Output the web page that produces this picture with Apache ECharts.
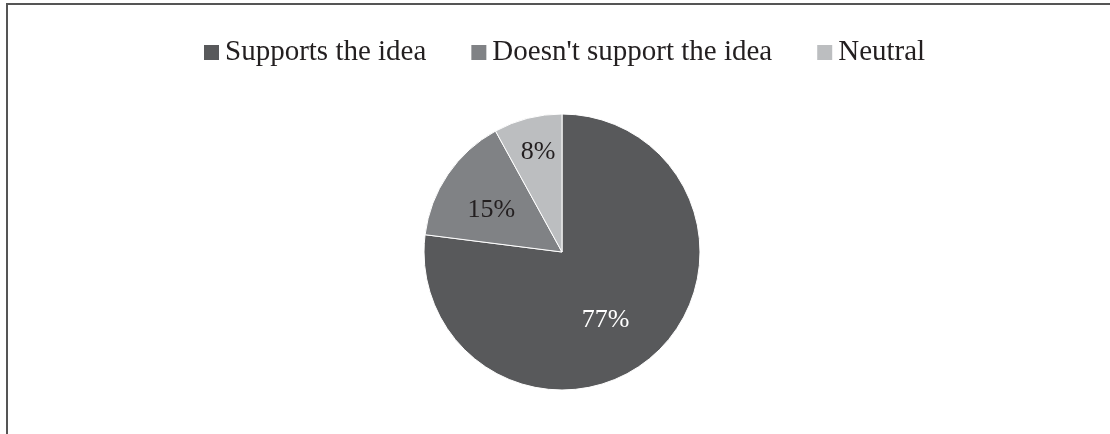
<!DOCTYPE html>
<html>
<head>
<meta charset="utf-8">
<title>Opinion on the idea</title>
<script src="https://cdn.jsdelivr.net/npm/echarts@6/dist/echarts.min.js"></script>
<style>
  html, body { margin: 0; padding: 0; background: #fff; }
  #chart { width: 1110px; height: 434px; }
</style>
</head>
<body>
<div id="chart"></div>
<script>
// Survey answers and their shares (percent)
const categories = ['Supports the idea', "Doesn't support the idea", 'Neutral'];
const shares = [77, 15, 8];

// Greyscale palette, one shade per answer
const colors = ['#58595b', '#808285', '#bcbec0'];
// Label colours and nudges for the value labels inside each slice
const labelColors = ['#ffffff', '#231f20', '#231f20'];
const labelOffsets = [[-4, 14], [-11, -1], [-6, -30]];

const chart = echarts.init(document.getElementById('chart'), null, { renderer: 'canvas' });

const data = categories.map((name, i) => ({
  name,
  value: shares[i],
  itemStyle: { color: colors[i] },
  label: { color: labelColors[i], offset: labelOffsets[i] }
}));

chart.setOption({
  animation: false,
  backgroundColor: '#ffffff',
  // Frame: top and left edges of the surrounding box
  graphic: [{
    type: 'polyline',
    shape: { points: [[7, 440], [7, 4], [1110, 4]] },
    style: { fill: 'none', stroke: '#555555', lineWidth: 2 },
    silent: true
  }],
  legend: {
    data: categories,
    top: 33,
    left: 197,
    icon: 'rect',
    itemWidth: 17,
    itemHeight: 17,
    itemGap: 43,
    textStyle: {
      fontFamily: 'Liberation Serif',
      fontSize: 29,
      color: '#231f20'
    }
  },
  series: [{
    type: 'pie',
    center: [562, 252],
    radius: [0, 138],
    startAngle: 90,
    clockwise: true,
    avoidLabelOverlap: false,
    silent: true,
    itemStyle: { borderColor: '#ffffff', borderWidth: 1 },
    label: {
      show: true,
      position: 'inside',
      formatter: '{c}%',
      fontFamily: 'Liberation Serif',
      fontSize: 26
    },
    labelLine: { show: false },
    emphasis: { disabled: true },
    data
  }]
});
</script>
</body>
</html>
